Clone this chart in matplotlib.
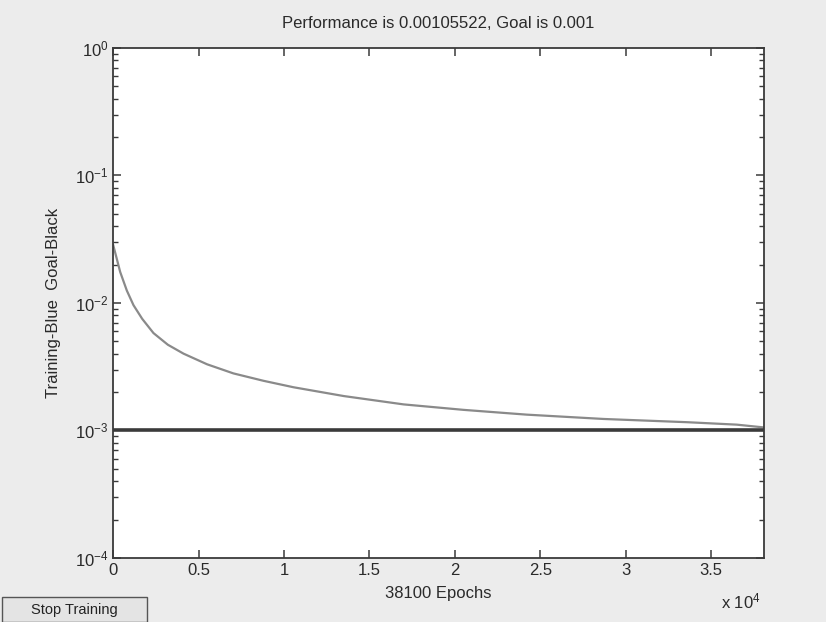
import matplotlib.pyplot as plt
from matplotlib.ticker import FixedLocator, FuncFormatter, LogLocator, NullFormatter
from matplotlib.patches import Rectangle

plt.rcParams['font.family'] = ['Liberation Sans', 'DejaVu Sans']

# training record
epochs = [0, 200, 410, 800, 1190, 1700, 2360, 3200, 4120, 5500, 7040, 8800,
          10560, 13500, 17000, 20500, 24200, 28700, 33600, 36500, 38100]
performance = [0.0285, 0.0225, 0.0175, 0.0125, 0.0096, 0.0075, 0.0058, 0.0047,
               0.0040, 0.0033, 0.0028, 0.00245, 0.00218, 0.00186, 0.0016,
               0.00145, 0.00133, 0.00123, 0.00116, 0.00111, 0.00105522]
goal = 0.001
total_epochs = 38100
x_ticks = [0, 5000, 10000, 15000, 20000, 25000, 30000, 35000]

fig = plt.figure(figsize=(8.26, 6.22), dpi=100, facecolor='#ececec')
ax = fig.add_axes([0.137, 0.103, 0.788, 0.820])
ax.set_facecolor('white')

ax.plot(epochs, performance, color='#8a8a8a', linewidth=1.6)
ax.plot([0, total_epochs], [goal, goal], color='#3a3a3a', linewidth=2.6)

ax.set_yscale('log')
ax.set_ylim(1e-4, 1)
ax.set_xlim(0, total_epochs)

ax.xaxis.set_major_locator(FixedLocator(x_ticks))
ax.xaxis.set_major_formatter(FuncFormatter(lambda v, p: '%g' % (v / 1e4)))
ax.yaxis.set_major_locator(LogLocator(base=10, numticks=10))
ax.yaxis.set_minor_locator(LogLocator(base=10, subs=range(2, 10), numticks=20))
ax.yaxis.set_minor_formatter(NullFormatter())

ax.tick_params(which='both', direction='in', top=True, right=True,
               colors='#3a3a3a', labelcolor='#2a2a2a', labelsize=12)
ax.tick_params(which='major', length=6, width=1.1)
ax.tick_params(which='minor', length=3.5, width=1.0)
for s in ax.spines.values():
    s.set_color('#3a3a3a')
    s.set_linewidth(1.3)

ax.set_title('Performance is 0.00105522, Goal is 0.001', fontsize=12,
             color='#2a2a2a', pad=14)
ax.set_xlabel('38100 Epochs', fontsize=12, color='#2a2a2a', labelpad=6)
ax.set_ylabel('Training-Blue  Goal-Black', fontsize=12, color='#2a2a2a', labelpad=10)

fig.text(0.873, 0.022, r'x $\mathdefault{10^{4}}$', fontsize=12, color='#2a2a2a')

# "Stop Training" button from the training window
fig.patches.append(Rectangle((0.002, 0.0), 0.176, 0.04, transform=fig.transFigure,
                             facecolor='#e4e4e4', edgecolor='#555555', linewidth=1.0))
fig.text(0.09, 0.019, 'Stop Training', fontsize=10.5, color='#222222',
         ha='center', va='center')

fig.savefig('out.png', dpi=100, facecolor=fig.get_facecolor())
